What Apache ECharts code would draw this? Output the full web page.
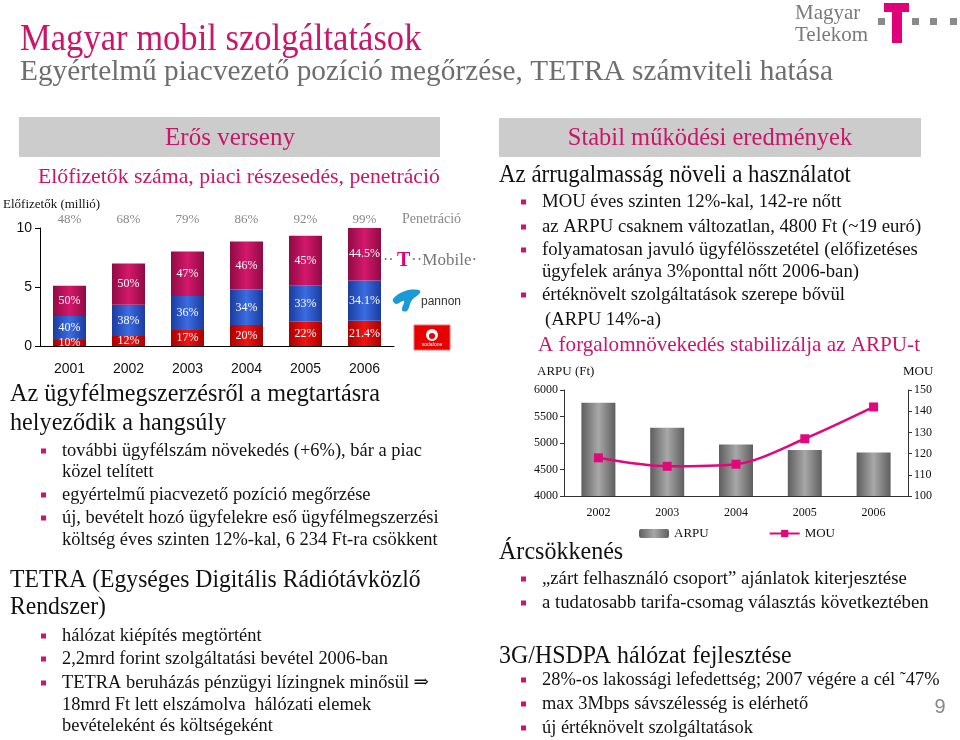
<!DOCTYPE html>
<html><head><meta charset="utf-8">
<script src="https://cdn.jsdelivr.net/npm/echarts@6/dist/echarts.min.js"></script>
<style>html,body{margin:0;padding:0;background:#fff}#c{width:960px;height:740px}</style>
</head><body><div id="c"></div>
<script>
// ---- data ----
const years1 = ['2001','2002','2003','2004','2005','2006'];
const subscribers = [5.1, 7.0, 8.0, 8.85, 9.35, 10.0];
const tmobileShare = [50, 50, 47, 46, 45, 44.5];
const pannonShare = [40, 38, 36, 34, 33, 34.1];
const vodafoneShare = [10, 12, 17, 20, 22, 21.4];
const penetration = ['48%','68%','79%','86%','92%','99%'];
const years2 = ['2002','2003','2004','2005','2006'];
const arpu = [5760, 5290, 4970, 4870, 4820];
const mou = [118, 114, 115, 127, 142];

const SERIF = '"Liberation Serif", "DejaVu Serif", serif';
const SANS = '"Liberation Sans", Arial, sans-serif';
const MAG = '#cc1469';

function seg(share){ return share.map((s,i)=> +(subscribers[i]*s/100).toFixed(3)); }
function grad(c1,c2){ return {type:'linear',x:0,y:0,x2:1,y2:0,colorStops:[{offset:0,color:c1},{offset:0.5,color:c2},{offset:1,color:c1}]}; }

function txt(x,y,text,size,color,o){
  o=o||{};
  return {type:'text',x:x,y:y,scaleX:o.sx||1,silent:true,z:10,
    style:{text:text,fill:color||'#111',fontSize:size,fontFamily:o.f||SERIF,fontWeight:o.w||'normal',
      align:o.a||'left',verticalAlign:'middle'}};
}
function bullet(x,y){ return {type:'rect',x:x,y:y-2.5,shape:{width:5,height:5},style:{fill:MAG},silent:true}; }

const g = [];
// header
g.push(txt(20,40,'Magyar mobil szolgáltatások',38,MAG,{sx:0.91}));
g.push(txt(20,72,'Egyértelmű piacvezető pozíció megőrzése, TETRA számviteli hatása',30,'#6e6e6e',{sx:0.977}));
// Magyar Telekom logo
g.push(txt(795,13,'Magyar',21,'#7a7a7a'));
g.push(txt(795,35,'Telekom',21,'#7a7a7a'));
g.push({type:'rect',x:884,y:3,shape:{width:25,height:9},style:{fill:'#e2007a'}});
g.push({type:'rect',x:892,y:3,shape:{width:10,height:40},style:{fill:'#e2007a'}});
[878,912,930,950].forEach(x=>g.push({type:'rect',x:x,y:18,shape:{width:7,height:7},style:{fill:'#8a8a8a'}}));

// left section
g.push({type:'rect',x:19,y:117,shape:{width:421,height:40},style:{fill:'#cccccc'}});
g.push(txt(230,138,'Erős verseny',25,MAG,{a:'center'}));
g.push(txt(38,177,'Előfizetők száma, piaci részesedés, penetráció',22,MAG,{sx:0.988}));
g.push(txt(3,205,'Előfizetők (millió)',13,'#111'));
g.push(txt(402,219,'Penetráció',14,'#888'));
// logos
g.push(txt(383,261,'··',16,'#777'));
g.push(txt(397,261,'T',20,'#e2007a',{w:'bold'}));
g.push(txt(411,261,'··Mobile·',17,'#777'));
g.push({type:'polygon',shape:{smooth:0.4,points:[[419,290],[405,291],[393,299],[396,304],[404,301],[402,310],[407,311],[412,300],[420,293]]},style:{fill:'#1c9ad6'}});
g.push(txt(421,302,'pannon',12,'#333',{f:SANS}));
g.push({type:'rect',x:414,y:325,shape:{width:36,height:25},style:{fill:'#e60000',stroke:'#f07070',lineWidth:1}});
g.push({type:'circle',shape:{cx:432,cy:335,r:6},style:{fill:'#fff'}});
g.push({type:'circle',shape:{cx:432,cy:336,r:3},style:{fill:'#e60000'}});
g.push(txt(432,345,'vodafone',5,'#fff',{a:'center',f:SANS}));

// left body
g.push(txt(10,394,'Az ügyfélmegszerzésről a megtartásra',26,'#111',{sx:0.93}));
g.push(txt(10,423,'helyeződik a hangsúly',26,'#111',{sx:0.93}));
const LB = [[451,'további ügyfélszám növekedés (+6%), bár a piac',1],[472,'közel telített',0],
  [495,'egyértelmű piacvezető pozíció megőrzése',1],[518,'új, bevételt hozó ügyfelekre eső ügyfélmegszerzési',1],
  [540,'költség éves szinten 12%-kal, 6 234 Ft-ra csökkent',0]];
LB.forEach(r=>{ if(r[2]) g.push(bullet(41,r[0])); g.push(txt(62,r[0],r[1],19,'#111',{sx:0.97})); });
g.push(txt(10,580,'TETRA (Egységes Digitális Rádiótávközlő',26,'#111',{sx:0.91}));
g.push(txt(10,607,'Rendszer)',26,'#111',{sx:0.91}));
const LB2 = [[636,'hálózat kiépítés megtörtént',1],[659,'2,2mrd forint szolgáltatási bevétel 2006-ban',1],
  [683,'TETRA beruházás pénzügyi lízingnek minősül ⇒',1],[705,'18mrd Ft lett elszámolva  hálózati elemek',0],
  [726,'bevételeként és költségeként',0]];
LB2.forEach(r=>{ if(r[2]) g.push(bullet(41,r[0])); g.push(txt(62,r[0],r[1],19,'#111',{sx:0.97})); });

// right section
g.push({type:'rect',x:499,y:118,shape:{width:422,height:39},style:{fill:'#cccccc'}});
g.push(txt(710,139,'Stabil működési eredmények',24.5,MAG,{a:'center'}));
g.push(txt(499,175,'Az árrugalmasság növeli a használatot',26,'#111',{sx:0.88}));
const RB = [[202,'MOU éves szinten 12%-kal, 142-re nőtt',1],[227,'az ARPU csaknem változatlan, 4800 Ft (~19 euró)',1],
  [250,'folyamatosan javuló ügyfélösszetétel (előfizetéses',1],[272,'ügyfelek aránya 3%ponttal nőtt 2006-ban)',0],
  [295,'értéknövelt szolgáltatások szerepe bővül',1]];
RB.forEach(r=>{ if(r[2]) g.push(bullet(521,r[0])); g.push(txt(542,r[0],r[1],19,'#111',{sx:0.985})); });
g.push(txt(545,320,'(ARPU 14%-a)',19,'#111',{sx:0.985}));
g.push(txt(538,345,'A forgalomnövekedés stabilizálja az ARPU-t',22,MAG,{sx:0.96}));
g.push(txt(537,372,'ARPU (Ft)',13,'#111'));
g.push(txt(903,372,'MOU',13,'#111'));
g.push(txt(499,552,'Árcsökkenés',26,'#111',{sx:0.925}));
[[579,'„zárt felhasználó csoport” ajánlatok kiterjesztése'],[603,'a tudatosabb tarifa-csomag választás következtében']]
  .forEach(r=>{ g.push(bullet(521,r[0])); g.push(txt(542,r[0],r[1],19,'#111',{sx:0.985})); });
g.push(txt(499,656,'3G/HSDPA hálózat fejlesztése',26,'#111',{sx:0.92}));
[[680,'28%-os lakossági lefedettség; 2007 végére a cél ˜47%'],[704,'max 3Mbps sávszélesség is elérhető'],[728,'új értéknövelt szolgáltatások']]
  .forEach(r=>{ g.push(bullet(521,r[0])); g.push(txt(542,r[0],r[1],19,'#111',{sx:0.97})); });
g.push(txt(940,707,'9',20,'#888',{f:SANS,a:'center'}));

function shareLabel(arr){ return {show:true,position:'inside',color:'#fff',fontFamily:SERIF,fontSize:12,
  formatter:p=>arr[p.dataIndex]+'%'}; }

const chart = echarts.init(document.getElementById('c'),null,{renderer:'canvas'});
chart.setOption({
  animation:false,
  backgroundColor:'#fff',
  graphic:g,
  grid:[{left:40,right:566,top:228,bottom:394},{left:564,right:52,top:390,bottom:244}],
  legend:{data:['ARPU','MOU'],left:634,top:522,itemWidth:30,itemHeight:9,itemGap:60,
    textStyle:{fontFamily:SERIF,fontSize:13,color:'#111'}},
  xAxis:[
    {type:'category',gridIndex:0,data:years1,axisLine:{lineStyle:{color:'#000'}},axisTick:{length:5,lineStyle:{color:'#000'}},
      axisLabel:{color:'#111',fontFamily:SANS,fontSize:14,margin:16}},
    {type:'category',gridIndex:0,position:'top',data:penetration,axisLine:{show:false},axisTick:{show:false},
      axisLabel:{color:'#888',fontFamily:SERIF,fontSize:13,margin:2}},
    {type:'category',gridIndex:1,data:years2,axisLine:{lineStyle:{color:'#333'}},axisTick:{length:5,lineStyle:{color:'#333'}},
      axisLabel:{color:'#111',fontFamily:SERIF,fontSize:12,margin:11}}
  ],
  yAxis:[
    {type:'value',gridIndex:0,min:0,max:10,interval:5,axisLine:{show:true,lineStyle:{color:'#000'}},
      axisTick:{show:true,length:5,lineStyle:{color:'#000'}},splitLine:{show:false},
      axisLabel:{color:'#111',fontFamily:SANS,fontSize:14,margin:8}},
    {type:'value',gridIndex:1,min:4000,max:6000,interval:500,axisLine:{show:true,lineStyle:{color:'#333'}},
      axisTick:{show:true,length:4,lineStyle:{color:'#333'}},splitLine:{show:false},
      axisLabel:{color:'#111',fontFamily:SERIF,fontSize:12,margin:6,formatter:v=>String(v)}},
    {type:'value',gridIndex:1,position:'right',min:100,max:150,interval:10,axisLine:{show:true,lineStyle:{color:'#333'}},
      axisTick:{show:true,length:4,lineStyle:{color:'#333'}},splitLine:{show:false},
      axisLabel:{color:'#111',fontFamily:SERIF,fontSize:12,margin:6}}
  ],
  series:[
    {name:'Vodafone',type:'bar',xAxisIndex:0,yAxisIndex:0,stack:'s',barWidth:33,data:seg(vodafoneShare),
      itemStyle:{color:grad('#a80000','#f01414')},label:shareLabel(vodafoneShare)},
    {name:'Pannon',type:'bar',xAxisIndex:0,yAxisIndex:0,stack:'s',barWidth:33,data:seg(pannonShare),
      itemStyle:{color:grad('#1a3c9e','#3b6ce2')},label:shareLabel(pannonShare)},
    {name:'T-Mobile',type:'bar',xAxisIndex:0,yAxisIndex:0,stack:'s',barWidth:33,data:seg(tmobileShare),
      itemStyle:{color:grad('#900a44','#d4186c')},label:shareLabel(tmobileShare)},
    {name:'ARPU',type:'bar',xAxisIndex:2,yAxisIndex:1,barWidth:34,data:arpu,
      itemStyle:{color:grad('#5e5e5e','#a8a8a8')}},
    {name:'MOU',type:'line',xAxisIndex:2,yAxisIndex:2,data:mou,smooth:0.3,symbol:'rect',symbolSize:9,
      lineStyle:{color:'#e0087a',width:2.5},itemStyle:{color:'#e0087a'}}
  ]
});
</script></body></html>
